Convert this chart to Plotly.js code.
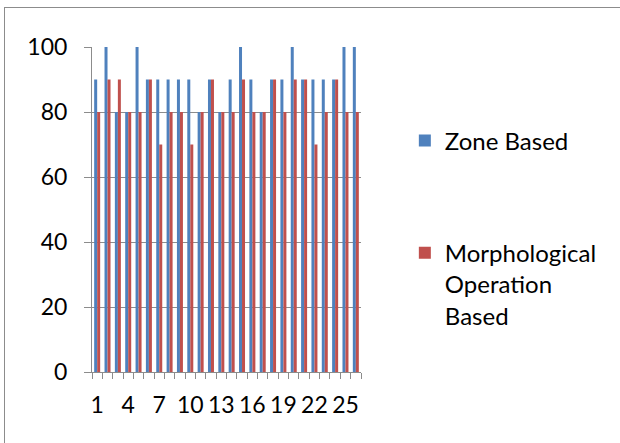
<!DOCTYPE html>
<html>
<head>
<meta charset="utf-8">
<script src="https://cdn.plot.ly/plotly-3.0.1.min.js"></script>
<style>
  html, body { margin: 0; padding: 0; background: #fff; }
  #wrap { position: relative; width: 620px; height: 443px; overflow: hidden; }
  #chart { position: absolute; left: 0; top: 0; width: 620px; height: 443px; }
  #frame { position: absolute; left: 4px; top: 7px; width: 700px; height: 500px;
           border-left: 1px solid #8c8c8c; border-top: 1px solid #8c8c8c; pointer-events: none; }
</style>
</head>
<body>
<div id="wrap">
  <div id="chart"></div>
  <div id="frame"></div>
</div>
<script>
const categories = ["1","2","3","4","5","6","7","8","9","10","11","12","13","14","15","16","17","18","19","20","21","22","23","24","25","26"];
const zoneBased = [90,100,80,80,100,90,90,90,90,90,80,90,80,90,100,90,80,90,90,100,90,90,90,90,100,100];
const morphBased = [80,90,90,80,80,90,70,80,80,70,80,90,80,80,90,80,80,90,80,90,90,70,80,90,80,80];
const tickLabels = ["1","","","4","","","7","","","10","","","13","","","16","","","19","","","22","","","25",""];
const seriesNames = ["Zone Based", "Morphological<br>Operation<br>Based"];

const font = "Lato, 'Open Sans', sans-serif";

const traces = [
  { type: "bar", name: seriesNames[0], x: categories, y: zoneBased,
    marker: { color: "#4F81BD" }, legendgroup: "a" },
  { type: "bar", name: seriesNames[1], x: categories, y: morphBased,
    marker: { color: "#C0504D" }, legendgroup: "b" }
];

const layout = {
  width: 620, height: 443,
  margin: { l: 92, r: 259, t: 47, b: 71 },
  paper_bgcolor: "#fff", plot_bgcolor: "#fff",
  barmode: "group", bargap: 0.42, bargroupgap: 0,
  font: { family: font, size: 23, color: "#000" },
  showlegend: true,
  legend: { x: 1.163, xanchor: "left", y: 0.78, yanchor: "top",
            traceorder: "grouped", tracegroupgap: 78, valign: "top",
            font: { family: font, size: 24, color: "#000" }, itemwidth: 30 },
  xaxis: {
    type: "category", tickmode: "array", tickvals: categories, ticktext: tickLabels,
    tickson: "boundaries", ticks: "outside", ticklen: 6, tickcolor: "#8c8c8c",
    showline: true, linecolor: "#8c8c8c", linewidth: 1, showgrid: false,
    tickangle: 0, ticklabelstandoff: 12, tickfont: { family: font, size: 23 }
  },
  yaxis: {
    range: [0, 100], dtick: 20, tick0: 0, ticks: "outside", ticklen: 7, tickcolor: "#8c8c8c",
    showline: true, linecolor: "#8c8c8c", linewidth: 1,
    showgrid: true, gridcolor: "#8c8c8c", gridwidth: 1, zeroline: false,
    ticklabelstandoff: 12, tickfont: { family: font, size: 23 }
  }
};

Plotly.newPlot("chart", traces, layout, { displayModeBar: false, staticPlot: true });
</script>
</body>
</html>
